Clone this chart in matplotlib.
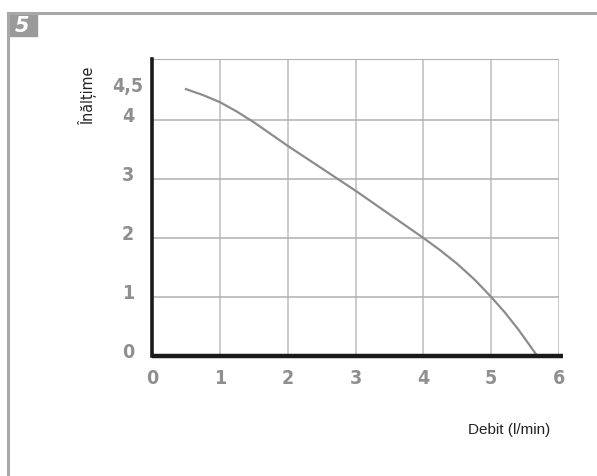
import matplotlib
matplotlib.use("Agg")
import matplotlib.pyplot as plt
from matplotlib.patches import Rectangle
from matplotlib.lines import Line2D

flow = [0.5, 0.75, 1.0, 1.25, 1.5, 1.75, 2.0, 2.5, 3.0, 3.5, 4.0, 4.25, 4.5, 4.75, 5.0, 5.2, 5.4, 5.55, 5.68]
head = [4.52, 4.42, 4.30, 4.14, 3.96, 3.76, 3.56, 3.18, 2.80, 2.40, 2.00, 1.79, 1.56, 1.30, 1.00, 0.74, 0.45, 0.21, 0.0]
xticks = [0, 1, 2, 3, 4, 5, 6]
yticks = [0, 1, 2, 3, 4]
ylabels_pos = [0, 1, 2, 3, 4, 4.5]
ytick_labels = ["0", "1", "2", "3", "4", "4,5"]

W, H = 597, 477
fig = plt.figure(figsize=(W / 100, H / 100), dpi=100)

# page frame
fig.add_artist(Line2D([8 / W, 8 / W], [0, 1 - 14 / H], color="#a8a8a8", lw=2.2, transform=fig.transFigure))
fig.add_artist(Line2D([8 / W, 1], [1 - 14 / H, 1 - 14 / H], color="#a8a8a8", lw=2.2, transform=fig.transFigure))
fig.add_artist(Rectangle((8 / W, 1 - 37 / H), 29 / W, 23 / H, color="#9a9a9a", transform=fig.transFigure))
fig.text(22 / W, 1 - 26 / H, "5", color="white", fontsize=15, fontweight="bold", style="italic",
         ha="center", va="center", family="DejaVu Sans")

ax = fig.add_axes([152 / W, 1 - 357 / H, 407 / W, 297 / H])
ax.set_xlim(0, 6)
ax.set_ylim(0, 5.03)

for x in xticks[1:]:
    ax.axvline(x, color="#bdbdbd", lw=1.1, zorder=1)
for y in yticks[1:]:
    ax.axhline(y, color="#b0b0b0", lw=1.1, zorder=1)
ax.axhline(5.03, color="#b0b0b0", lw=1.5, zorder=1)

ax.plot(flow, head, color="#8c8c8c", lw=1.6, zorder=3, solid_joinstyle="round")

for s in ["top", "right"]:
    ax.spines[s].set_visible(False)
ax.spines["left"].set_linewidth(2.6)
ax.spines["left"].set_color("#1a1a1a")
ax.spines["bottom"].set_visible(False)
ax.plot([0, 6.06], [0, 0], color="#1a1a1a", lw=3.2, clip_on=False, zorder=4, solid_capstyle="butt")

tick_font = dict(family=["DejaVu Sans"], fontstretch="condensed", fontweight="bold",
                 color="#8f8f8f", fontsize=14)
ax.set_xticks(xticks)
ax.set_xticklabels([str(x) for x in xticks], **tick_font)
ax.set_yticks([])
ax.tick_params(axis="both", length=0)
ax.tick_params(axis="x", pad=9)
for v, t in zip(ylabels_pos, ytick_labels):
    ax.annotate(t, xy=(0, v), xycoords=("axes fraction", "data"), xytext=(-24, 4.5),
                textcoords="offset pixels", ha="center", va="center", **tick_font)

fig.text(88 / W, 1 - 96 / H, "Înălțime", rotation=90, ha="center", va="center",
         fontsize=11.5, family=["DejaVu Sans"], fontstretch="condensed", color="#222222")
fig.text(509 / W, 1 - 430 / H, "Debit (l/min)", ha="center", va="center",
         fontsize=11, family=["Liberation Sans", "DejaVu Sans"], color="#222222")

fig.savefig("out.png", dpi=100)
